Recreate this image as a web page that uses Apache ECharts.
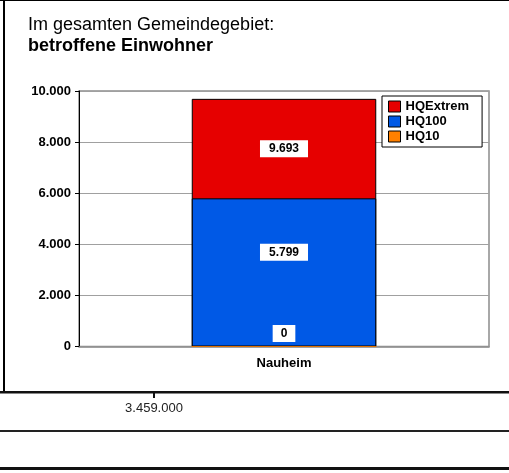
<!DOCTYPE html>
<html>
<head>
<meta charset="utf-8">
<script src="https://cdn.jsdelivr.net/npm/echarts@6/dist/echarts.min.js"></script>
<style>html,body{margin:0;padding:0;background:#fff}#c{width:509px;height:473px}</style>
</head>
<body>
<div id="c"></div>
<script>
var categories = ['Nauheim'];
var seriesNames = ['HQExtrem', 'HQ100', 'HQ10'];
var hqExtrem = [9693];
var hq100 = [5799];
var hq10 = [0];
var yTicks = [0, 2000, 4000, 6000, 8000, 10000];
var belowTickLabel = '3.459.000';

var FONT = 'Arial, "Liberation Sans", sans-serif';
function fmt(v) { return String(v).replace(/\B(?=(\d{3})+(?!\d))/g, '.'); }

var chart = echarts.init(document.getElementById('c'), null, {renderer: 'canvas'});
var labelBase = {
  show: true, color: '#000', fontFamily: FONT, fontWeight: 'bold', fontSize: 12,
  backgroundColor: '#fff', padding: [3, 9, 2, 9], align: 'center', verticalAlign: 'middle',
  formatter: function (p) { return fmt(p.value); }
};
chart.setOption({
  animation: false,
  backgroundColor: '#fff',
  title: [
    {text: 'Im gesamten Gemeindegebiet:', left: 28, top: 16.5, padding: 0,
     textStyle: {fontFamily: FONT, fontWeight: 'normal', fontSize: 18, color: '#000'}},
    {text: 'betroffene Einwohner', left: 28, top: 37.5, padding: 0,
     textStyle: {fontFamily: FONT, fontWeight: 'bold', fontSize: 18, color: '#000'}}
  ],
  legend: {
    orient: 'vertical', left: 382, top: 96, icon: 'rect',
    padding: [4, 13, 4, 6], itemWidth: 12, itemHeight: 11, itemGap: 2,
    borderColor: '#000', borderWidth: 1, backgroundColor: '#fff',
    textStyle: {fontFamily: FONT, fontWeight: 'bold', fontSize: 13, color: '#000'},
    data: [
      {name: 'HQExtrem', itemStyle: {borderColor: '#000', borderWidth: 1}},
      {name: 'HQ100', itemStyle: {borderColor: '#000', borderWidth: 1}},
      {name: 'HQ10', itemStyle: {borderColor: '#000', borderWidth: 1}}
    ]
  },
  grid: {left: 79, right: 20, top: 91, bottom: 126.5, show: true, borderColor: '#8c8c8c', borderWidth: 1.5, containLabel: false},
  xAxis: {
    type: 'category', data: categories,
    axisLine: {lineStyle: {color: '#8c8c8c', width: 1.5}},
    axisTick: {show: false},
    axisLabel: {margin: 10, fontFamily: FONT, fontWeight: 'bold', fontSize: 13, color: '#000'}
  },
  yAxis: {
    type: 'value', min: yTicks[0], max: yTicks[yTicks.length - 1], interval: yTicks[1] - yTicks[0],
    axisLine: {show: true, lineStyle: {color: '#000', width: 1}},
    axisTick: {show: true, length: 4, lineStyle: {color: '#000'}},
    axisLabel: {margin: 8, fontFamily: FONT, fontWeight: 'bold', fontSize: 13, color: '#000',
      formatter: function (v) { return fmt(v); }},
    splitLine: {show: true, lineStyle: {color: '#a0a0a0', width: 1}}
  },
  series: [
    {name: seriesNames[0], type: 'bar', data: hqExtrem, barWidth: '45%', barGap: '-100%',
     itemStyle: {color: '#E60000', borderColor: '#000', borderWidth: 1},
     label: Object.assign({}, labelBase, {position: ['50%', 50]})},
    {name: seriesNames[1], type: 'bar', data: hq100, barWidth: '45%', barGap: '-100%',
     itemStyle: {color: '#0059E6', borderColor: '#000', borderWidth: 1},
     label: Object.assign({}, labelBase, {position: ['50%', 54]})},
    {name: seriesNames[2], type: 'bar', data: hq10, barWidth: '45%', barGap: '-100%',
     itemStyle: {color: '#FF8000', borderColor: '#E07000', borderWidth: 1},
     label: Object.assign({}, labelBase, {position: ['50%', -12.5], padding: [3, 8, 2, 8]})}
  ],
  graphic: [
    {type: 'rect', shape: {x: 0, y: 0, width: 509, height: 1}, style: {fill: '#000'}, silent: true},
    {type: 'rect', shape: {x: 3, y: 0, width: 2, height: 393}, style: {fill: '#000'}, silent: true},
    {type: 'rect', shape: {x: 0, y: 391, width: 509, height: 2.5}, style: {fill: '#111'}, silent: true},
    {type: 'rect', shape: {x: 153, y: 393, width: 2, height: 5}, style: {fill: '#111'}, silent: true},
    {type: 'text', x: 154, y: 408, style: {text: belowTickLabel, fontFamily: FONT, fontSize: 13, fill: '#222', align: 'center', verticalAlign: 'middle'}, silent: true},
    {type: 'rect', shape: {x: 0, y: 430, width: 509, height: 2}, style: {fill: '#222'}, silent: true},
    {type: 'rect', shape: {x: 0, y: 467, width: 509, height: 3}, style: {fill: '#111'}, silent: true}
  ]
});
</script>
</body>
</html>
